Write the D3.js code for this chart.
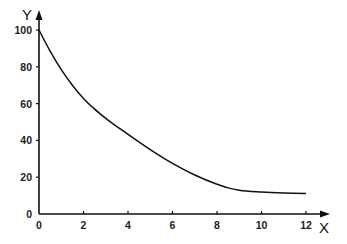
<!DOCTYPE html>
<html><head><meta charset="utf-8">
<script src="https://cdn.jsdelivr.net/npm/d3@7"></script>
<style>body{margin:0;background:#fff}svg{display:block}</style>
</head><body>
<script>
const xValues = [0, 0.5, 1, 1.5, 2, 2.5, 3, 4, 5, 6, 7, 8, 8.5, 9, 10, 11, 12];
const yValues = [100, 88.5, 78.5, 70, 62.8, 57, 52, 43.3, 35, 27.5, 21.2, 16.2, 14.2, 12.9, 11.9, 11.4, 11.2];
const xTicks = [0, 2, 4, 6, 8, 10, 12];
const yTicks = [0, 20, 40, 60, 80, 100];

const W = 347, H = 244;
const svg = d3.select("body").append("svg").attr("width", W).attr("height", H);
const x = d3.scaleLinear().domain([0, 12]).range([39, 306]);
const y = d3.scaleLinear().domain([0, 100]).range([214, 30]);
const font = "'Liberation Sans', Arial, sans-serif";

// axes lines with arrows
svg.append("line").attr("x1", x(0)).attr("x2", 326).attr("y1", y(0)).attr("y2", y(0))
  .attr("stroke", "#111").attr("stroke-width", 1.6);
svg.append("path").attr("d", `M330,${y(0)} L320,${y(0)-3.5} L320,${y(0)+3.5} Z`).attr("fill", "#111");
svg.append("line").attr("x1", x(0)).attr("x2", x(0)).attr("y1", y(0)).attr("y2", 14)
  .attr("stroke", "#111").attr("stroke-width", 1.6);
svg.append("path").attr("d", `M${x(0)},10 L${x(0)-3.5},20 L${x(0)+3.5},20 Z`).attr("fill", "#111");

// x ticks
const xa = svg.append("g");
xTicks.forEach(t => {
  if (t > 0) xa.append("line").attr("x1", x(t)).attr("x2", x(t)).attr("y1", y(0)).attr("y2", y(0) - 3)
    .attr("stroke", "#111").attr("stroke-width", 1.2);
  xa.append("text").attr("x", x(t)).attr("y", y(0) + 15).attr("text-anchor", "middle")
    .attr("font-family", font).attr("font-size", 10.5).attr("font-weight", "bold").attr("fill", "#222").text(t);
});
// y ticks
const ya = svg.append("g");
yTicks.forEach(t => {
  if (t > 0) ya.append("line").attr("x1", x(0) - 3).attr("x2", x(0)).attr("y1", y(t)).attr("y2", y(t))
    .attr("stroke", "#111").attr("stroke-width", 1.2);
  ya.append("text").attr("x", x(0) - 7).attr("y", y(t) + 4).attr("text-anchor", "end")
    .attr("font-family", font).attr("font-size", 10.5).attr("font-weight", "bold").attr("fill", "#222").text(t);
});

// axis labels
svg.append("text").attr("x", 27).attr("y", 20).attr("text-anchor", "middle")
  .attr("font-family", font).attr("font-size", 15).attr("fill", "#111").text("Y");
svg.append("text").attr("x", 324).attr("y", 233).attr("text-anchor", "middle")
  .attr("font-family", font).attr("font-size", 15).attr("fill", "#111").text("X");

// curve
const data = xValues.map((v, i) => [v, yValues[i]]);
svg.append("path").datum(data)
  .attr("d", d3.line().x(d => x(d[0])).y(d => y(d[1])).curve(d3.curveMonotoneX))
  .attr("fill", "none").attr("stroke", "#111").attr("stroke-width", 1.5);
</script>
</body></html>
